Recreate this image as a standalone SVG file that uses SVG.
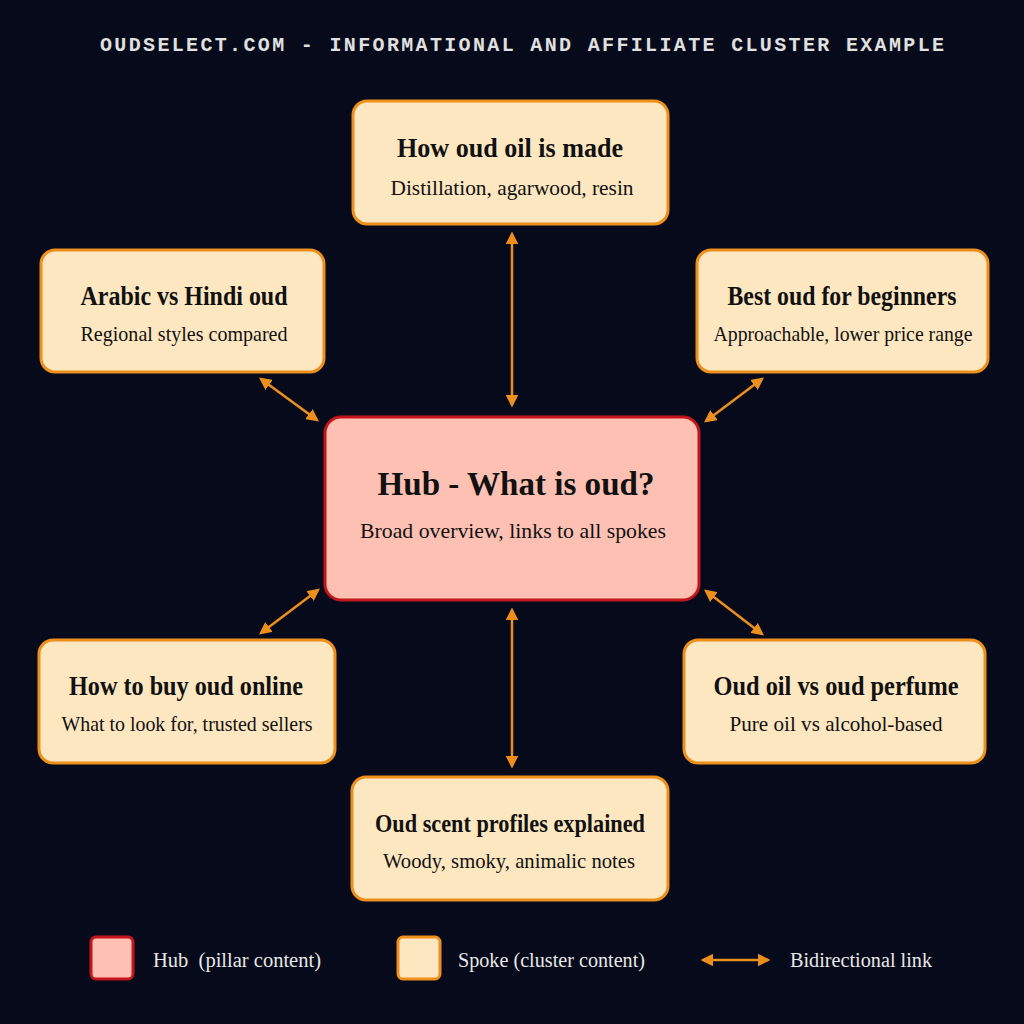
<svg xmlns="http://www.w3.org/2000/svg" width="1024" height="1024" viewBox="0 0 1024 1024">
<style>
.spoke{fill:#fde7c0;stroke:#ec8f1c;stroke-width:3}
.hub{fill:#fdc0b2;stroke:#c3161c;stroke-width:3}
.t{font-family:"Liberation Serif",serif;font-weight:bold;fill:#111;text-anchor:middle}
.s{font-family:"Liberation Serif",serif;fill:#111;text-anchor:middle}
.lg{font-family:"Liberation Serif",serif;fill:#e8e8e8;font-size:20px}
.c{stroke:#ec8f1c;stroke-width:2.5;fill:none;marker-start:url(#a);marker-end:url(#a)}
</style>
<defs><marker id="a" viewBox="0 0 10 10" refX="8" refY="5" markerWidth="5" markerHeight="5" orient="auto-start-reverse"><path d="M0,0L10,5L0,10z" fill="#ec8f1c"/></marker></defs>
<rect width="1024" height="1024" fill="#070a1a"/>
<text x="522" y="51" font-family="Liberation Mono,monospace" font-size="20" font-weight="bold" fill="#e0e0e0" text-anchor="middle" textLength="844" lengthAdjust="spacing">OUDSELECT.COM - INFORMATIONAL AND AFFILIATE CLUSTER EXAMPLE</text>
<g id="connectors">
<line class="c" x1="512" y1="234" x2="512" y2="405"/>
<line class="c" x1="512" y1="610" x2="512" y2="766"/>
<line class="c" x1="261" y1="379" x2="317" y2="420"/>
<line class="c" x1="762" y1="379" x2="706" y2="421"/>
<line class="c" x1="318" y1="590" x2="261" y2="633"/>
<line class="c" x1="706" y1="591" x2="762" y2="634"/>
</g>
<g id="hub"><rect class="hub" x="325" y="417" width="374" height="183" rx="16"/>
<text class="t" x="516" y="495" font-size="34" textLength="277" lengthAdjust="spacingAndGlyphs">Hub - What is oud?</text>
<text class="s" x="513" y="538" font-size="22" textLength="306" lengthAdjust="spacingAndGlyphs">Broad overview, links to all spokes</text></g>
<g id="made"><rect class="spoke" x="353" y="101" width="315" height="123" rx="14"/>
<text class="t" x="510" y="157" font-size="27" textLength="226" lengthAdjust="spacingAndGlyphs">How oud oil is made</text>
<text class="s" x="512" y="195" font-size="21" textLength="243" lengthAdjust="spacingAndGlyphs">Distillation, agarwood, resin</text></g>
<g id="arabic"><rect class="spoke" x="41" y="250" width="283" height="122" rx="14"/>
<text class="t" x="184" y="305" font-size="27" textLength="207" lengthAdjust="spacingAndGlyphs">Arabic vs Hindi oud</text>
<text class="s" x="184" y="341" font-size="21" textLength="207" lengthAdjust="spacingAndGlyphs">Regional styles compared</text></g>
<g id="best"><rect class="spoke" x="697" y="250" width="291" height="122" rx="14"/>
<text class="t" x="842" y="305" font-size="27" textLength="229" lengthAdjust="spacingAndGlyphs">Best oud for beginners</text>
<text class="s" x="843" y="341" font-size="21" textLength="259" lengthAdjust="spacingAndGlyphs">Approachable, lower price range</text></g>
<g id="buy"><rect class="spoke" x="39" y="640" width="296" height="123" rx="14"/>
<text class="t" x="186" y="695" font-size="27" textLength="234" lengthAdjust="spacingAndGlyphs">How to buy oud online</text>
<text class="s" x="187" y="731" font-size="21" textLength="251" lengthAdjust="spacingAndGlyphs">What to look for, trusted sellers</text></g>
<g id="oil"><rect class="spoke" x="684" y="640" width="301" height="123" rx="14"/>
<text class="t" x="836" y="695" font-size="27" textLength="245" lengthAdjust="spacingAndGlyphs">Oud oil vs oud perfume</text>
<text class="s" x="836" y="731" font-size="21" textLength="213" lengthAdjust="spacingAndGlyphs">Pure oil vs alcohol-based</text></g>
<g id="scent"><rect class="spoke" x="352" y="777" width="316" height="123" rx="14"/>
<text class="t" x="510" y="832" font-size="26" textLength="270" lengthAdjust="spacingAndGlyphs">Oud scent profiles explained</text>
<text class="s" x="509" y="868" font-size="21" textLength="252" lengthAdjust="spacingAndGlyphs">Woody, smoky, animalic notes</text></g>
<g id="legend">
<rect class="hub" x="91" y="937" width="42" height="42" rx="5"/>
<text class="lg" x="153" y="967" xml:space="preserve" textLength="168" lengthAdjust="spacingAndGlyphs">Hub  (pillar content)</text>
<rect class="spoke" x="398" y="937" width="42" height="42" rx="5"/>
<text class="lg" x="458" y="967" textLength="187" lengthAdjust="spacingAndGlyphs">Spoke (cluster content)</text>
<line class="c" x1="703" y1="960" x2="768" y2="960"/>
<text class="lg" x="790" y="967" textLength="142" lengthAdjust="spacingAndGlyphs">Bidirectional link</text>
</g>
</svg>
